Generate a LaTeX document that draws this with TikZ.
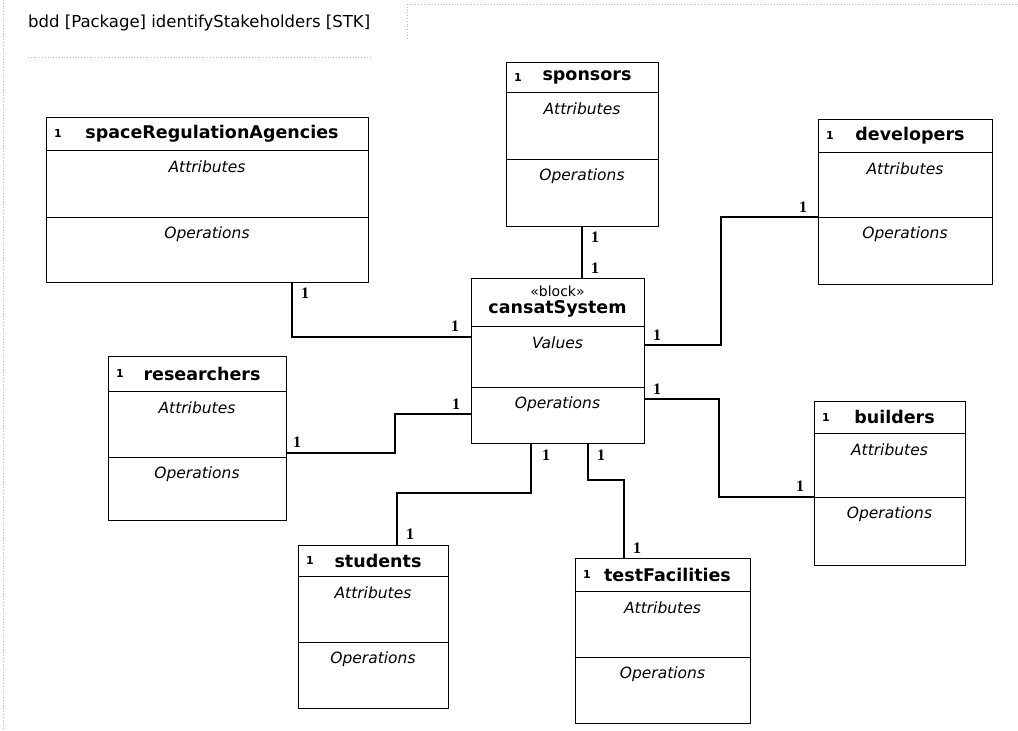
\documentclass[tikz,border=0pt]{standalone}
\usepackage{fontspec}
\setmainfont{DejaVu Sans}
\newfontfamily\serifb{Liberation Serif}
\newcommand\umlbox[8]{%
  \node[box, minimum width={#4-#2}, minimum height={#5-#3}] (#1) at ({(#2+#4)/2},{(#3+#5)/2}) {};
  \draw[cline] (#1.west |- 0,#6) -- (#1.east |- 0,#6);
  \draw[cline] (#1.west |- 0,#7) -- (#1.east |- 0,#7);
  \node[hone] (#1-m) at ({#2+12},{(#3+#6)/2}) {1};
  \node[ttl] (#1-t) at ({(#2+#4)/2+5},{(#3+#6)/2}) {#8};
  \node[cmp] (#1-a) at ({(#2+#4)/2},{#6+17}) {Attributes};
  \node[cmp] (#1-o) at ({(#2+#4)/2},{#7+17}) {Operations};
}
\begin{document}
\begin{tikzpicture}[x=1pt,y=-1pt,
  box/.style={draw=black, line width=0.9pt, fill=white, inner sep=0pt, rectangle},
  cline/.style={draw=black, line width=0.9pt},
  conn/.style={draw=black, line width=1.6pt},
  ttl/.style={font=\fontsize{17.5}{20}\selectfont\bfseries, inner sep=0pt},
  cmp/.style={font=\fontsize{15.5}{18}\selectfont\itshape, inner sep=0pt},
  hone/.style={font=\fontsize{11}{12}\selectfont\bfseries, inner sep=0pt},
  mult/.style={font=\serifb\fontsize{16}{18}\selectfont\bfseries, inner sep=0pt},
  framel/.style={draw=gray!55, dotted, line width=0.8pt}
]
\useasboundingbox (0,0) rectangle (1018,731);
% faint frame
\draw[framel] (3,0) -- (3,731);
\draw[framel] (407,4) -- (1018,4);
\draw[framel] (407,4) -- (407,38);
\draw[framel] (28,57) -- (370,57);
\node[anchor=west, inner sep=0pt, font=\fontsize{16.5}{19}\selectfont] (hdr) at (28,23) {bdd [Package] identifyStakeholders [STK]};

% boxes
\umlbox{sra}{46}{117}{368}{282}{150}{217}{spaceRegulationAgencies}
\umlbox{spo}{506}{62}{658}{226}{92}{159}{sponsors}
\umlbox{dev}{818}{119}{992}{284}{152}{217}{developers}
\umlbox{res}{108}{356}{286}{520}{391}{457}{researchers}
\umlbox{bld}{814}{401}{965}{565}{433}{497}{builders}
\umlbox{stu}{298}{545}{448}{708}{576}{642}{students}
\umlbox{tf}{575}{558}{750}{723}{591}{657}{testFacilities}

% central block
\node[box, minimum width=173, minimum height=165] (cs) at (557.5,360.5) {};
\draw[cline] (cs.west |- 0,326) -- (cs.east |- 0,326);
\draw[cline] (cs.west |- 0,387) -- (cs.east |- 0,387);
\node[inner sep=0pt, font=\fontsize{14}{16}\selectfont] (cs-s) at (557.5,291) {«block»};
\node[ttl] (cs-t) at (557.5,309) {cansatSystem};
\node[cmp] (cs-v) at (557.5,343) {Values};
\node[cmp] (cs-o) at (557.5,404) {Operations};

% connectors
\draw[conn] (sra.south -| 292,0) -- (292,337) -- (cs.west |- 0,337);
\draw[conn] (spo.south -| 582,0) -- (cs.north -| 582,0);
\draw[conn] (cs.east |- 0,345) -- (721,345) -- (721,217) -- (dev.west |- 0,217);
\draw[conn] (res.east |- 0,453) -- (395,453) -- (395,414) -- (cs.west |- 0,414);
\draw[conn] (cs.east |- 0,399) -- (719,399) -- (719,497) -- (bld.west |- 0,497);
\draw[conn] (cs.south -| 531,0) -- (531,493) -- (397,493) -- (stu.north -| 397,0);
\draw[conn] (cs.south -| 588,0) -- (588,480) -- (624,480) -- (tf.north -| 624,0);

% multiplicities
\node[mult] (m1) at (305,293) {1};
\node[mult] (m2) at (455,326) {1};
\node[mult] (m3) at (595,237) {1};
\node[mult] (m4) at (595,268) {1};
\node[mult] (m5) at (657,335) {1};
\node[mult] (m6) at (803,207) {1};
\node[mult] (m7) at (297,442) {1};
\node[mult] (m8) at (456,404) {1};
\node[mult] (m9) at (657,389) {1};
\node[mult] (m10) at (800,486) {1};
\node[mult] (m11) at (546,455) {1};
\node[mult] (m12) at (410,534) {1};
\node[mult] (m13) at (601,455) {1};
\node[mult] (m14) at (637,548) {1};
\end{tikzpicture}
\end{document}
